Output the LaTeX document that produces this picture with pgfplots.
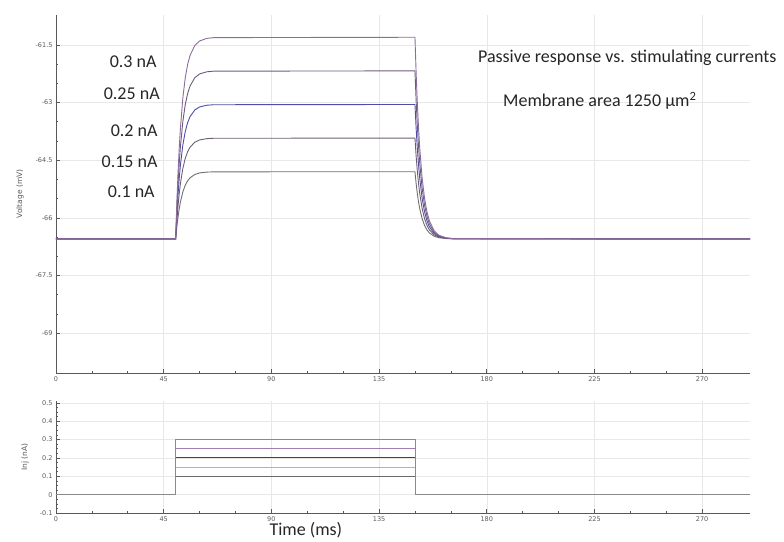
\documentclass[border=0pt]{standalone}
\usepackage{fontspec}
\setmainfont{Carlito}
\newfontfamily\tickfont{DejaVu Sans}
\usepackage{pgfplots}
\pgfplotsset{compat=1.18}

\definecolor{cA}{HTML}{6E6E6E}
\definecolor{cB}{HTML}{6E5E72}
\definecolor{cC}{HTML}{4E4EA8}
\definecolor{cD}{HTML}{6E5A80}
\definecolor{cE}{HTML}{8C6C9C}
\definecolor{iA}{HTML}{6A6A6A}
\definecolor{iB}{HTML}{E8A080}
\definecolor{iC}{HTML}{34465A}
\definecolor{iD}{HTML}{A080B0}
\definecolor{iE}{HTML}{8A8A8A}

\pgfplotsset{
  trace/.style={
    scale only axis, width=694pt,
    xmin=0, xmax=290,
    xtick={0,45,...,270}, minor x tick num=2,
    axis x line*=bottom, axis y line*=left,
    axis line style={-, gray!70!black, line width=0.7pt},
    tick style={gray!70!black, line width=0.6pt},
    major tick length=4pt, minor tick length=2.5pt,
    grid=major, major grid style={gray!18, line width=0.5pt},
    /pgf/number format/assume math mode=true,
    tick label style={font=\tickfont\fontsize{6.5}{7}\selectfont, text=gray!70!black},
    ylabel style={font=\tickfont\fontsize{7.5}{8}\selectfont, text=gray!70!black},
    every axis plot/.append style={line width=0.9pt},
  }
}

\begin{document}
\begin{tikzpicture}
\begin{axis}[trace, at={(0,0)}, height=358pt, clip=false,
    ymin=-70.04, ymax=-60.72,
    ytick={-69,-67.5,-66,-64.5,-63,-61.5}, minor y tick num=2,
    yticklabels={-69,-67.5,-66,-64.5,-63,-61.5},
    ylabel={Voltage (mV)},
    ylabel style={at={(rel axis cs:0,0.5)}, anchor=center, yshift=36pt},
]
% 0.1 nA
\addplot[cA] coordinates {
 (0,-66.55) (50,-66.55) (50.5,-66.233) (51,-65.973) (51.5,-65.760) (52,-65.586)
 (53,-65.327) (54,-65.153) (55,-65.037) (56,-64.959) (58,-64.871) (60,-64.832)
 (63,-64.810) (66,-64.803) (150,-64.80) (150.5,-65.117) (151,-65.377) (151.5,-65.590)
 (152,-65.764) (153,-66.023) (154,-66.197) (155,-66.313) (156,-66.391) (158,-66.479)
 (160,-66.518) (163,-66.540) (166,-66.547) (290,-66.55)
};
% 0.15 nA
\addplot[cB] coordinates {
 (0,-66.55) (50,-66.55) (50.5,-66.074) (51,-65.685) (51.5,-65.366) (52,-65.104)
 (53,-64.716) (54,-64.455) (55,-64.280) (56,-64.163) (58,-64.032) (60,-63.973)
 (63,-63.939) (66,-63.929) (150,-63.925) (150.5,-64.401) (151,-64.790) (151.5,-65.109)
 (152,-65.371) (153,-65.759) (154,-66.020) (155,-66.195) (156,-66.312) (158,-66.443)
 (160,-66.502) (163,-66.536) (166,-66.546) (290,-66.55)
};
% 0.2 nA
\addplot[cC] coordinates {
 (0,-66.55) (50,-66.55) (50.5,-65.915) (51,-65.396) (51.5,-64.971) (52,-64.623)
 (53,-64.104) (54,-63.757) (55,-63.524) (56,-63.367) (58,-63.193) (60,-63.114)
 (63,-63.069) (66,-63.056) (150,-63.05) (150.5,-63.685) (151,-64.204) (151.5,-64.629)
 (152,-64.977) (153,-65.496) (154,-65.843) (155,-66.076) (156,-66.233) (158,-66.407)
 (160,-66.486) (163,-66.531) (166,-66.544) (290,-66.55)
};
% 0.25 nA
\addplot[cD] coordinates {
 (0,-66.55) (50,-66.55) (50.5,-65.757) (51,-65.108) (51.5,-64.576) (52,-64.141)
 (53,-63.493) (54,-63.058) (55,-62.767) (56,-62.572) (58,-62.353) (60,-62.255)
 (63,-62.199) (66,-62.182) (150,-62.175) (150.5,-62.968) (151,-63.617) (151.5,-64.149)
 (152,-64.584) (153,-65.232) (154,-65.667) (155,-65.958) (156,-66.153) (158,-66.371)
 (160,-66.470) (163,-66.526) (166,-66.543) (290,-66.55)
};
% 0.3 nA
\addplot[cE] coordinates {
 (0,-66.55) (50,-66.55) (50.5,-65.598) (51,-64.819) (51.5,-64.181) (52,-63.659)
 (53,-62.881) (54,-62.360) (55,-62.010) (56,-61.776) (58,-61.514) (60,-61.396)
 (63,-61.329) (66,-61.309) (150,-61.30) (150.5,-62.252) (151,-63.031) (151.5,-63.669)
 (152,-64.191) (153,-64.969) (154,-65.490) (155,-65.840) (156,-66.074) (158,-66.336)
 (160,-66.454) (163,-66.521) (166,-66.541) (290,-66.55)
};
\begin{scope}[every node/.style={font=\fontsize{18}{20}\selectfont, text=black!85}]
\node[anchor=east] at (axis cs:43.5,-61.94) {0.3 nA};
\node[anchor=east] at (axis cs:44.8,-62.78) {0.25 nA};
\node[anchor=east] at (axis cs:43.9,-63.74) {0.2 nA};
\node[anchor=east] at (axis cs:43.9,-64.55) {0.15 nA};
\node[anchor=east] at (axis cs:42.7,-65.33) {0.1 nA};
\node[anchor=west] at (axis cs:174.9,-61.84) {Passive response vs. stimulating currents};
\node[anchor=west] at (axis cs:185.4,-62.96) {Membrane area 1250 µm\textsuperscript{2}};
\end{scope}
\end{axis}

\begin{axis}[trace, at={(0,-140pt)}, height=112pt,
    ymin=-0.1, ymax=0.51,
    ytick={-0.1,0,0.1,0.2,0.3,0.4,0.5}, minor y tick num=3,
    yticklabels={-0.1,0,0.1,0.2,0.3,0.4,0.5},
    ylabel={Inj (nA)},
    ylabel style={at={(rel axis cs:0,0.5)}, anchor=center, yshift=31pt},
    xlabel={Time (ms)},
    xlabel style={at={(rel axis cs:0.36,0)}, anchor=center, yshift=-17pt,
      font=\fontsize{18}{20}\selectfont, text=black!85},
]
\addplot[iA] coordinates {(0,0) (50,0) (50,0.1) (150,0.1) (150,0) (290,0)};
\addplot[iB] coordinates {(0,0) (50,0) (50,0.15) (150,0.15) (150,0) (290,0)};
\addplot[iC] coordinates {(0,0) (50,0) (50,0.2) (150,0.2) (150,0) (290,0)};
\addplot[iD] coordinates {(0,0) (50,0) (50,0.25) (150,0.25) (150,0) (290,0)};
\addplot[iE] coordinates {(0,0) (50,0) (50,0.3) (150,0.3) (150,0) (290,0)};
\end{axis}
\pgfresetboundingbox
\path[use as bounding box] (-56pt,-168pt) rectangle (728pt,373pt);
\end{tikzpicture}
\end{document}
